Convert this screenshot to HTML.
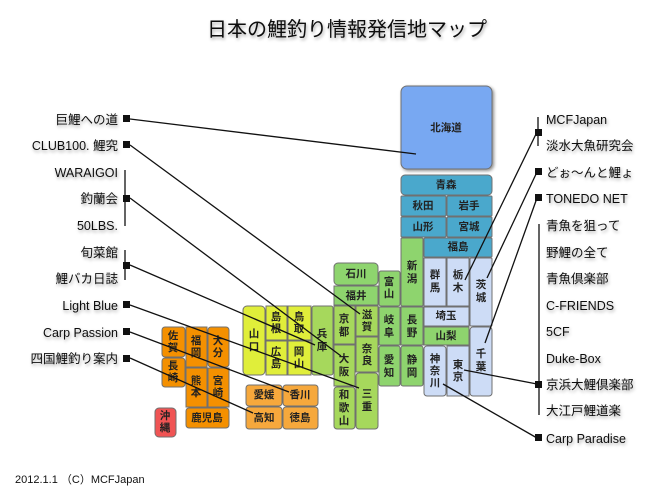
<!DOCTYPE html>
<html><head><meta charset="utf-8"><style>
html,body{margin:0;padding:0;background:#fff;}
svg{display:block;}
text{font-family:"Liberation Sans","Noto Sans CJK JP",sans-serif;}
.c{font-size:10.5px;fill:#222;text-anchor:middle;dominant-baseline:central;font-weight:bold;}
.l{font-size:12.5px;fill:#111;}
</style></head><body>
<svg width="672" height="500" viewBox="0 0 672 500" xmlns="http://www.w3.org/2000/svg">
<defs>
<filter id="sh" x="-20%" y="-20%" width="140%" height="140%"><feDropShadow dx="1.5" dy="1.5" stdDeviation="1.5" flood-color="#000" flood-opacity="0.45"/></filter>
<filter id="ts" x="-10%" y="-30%" width="120%" height="160%"><feDropShadow dx="1" dy="2" stdDeviation="1.5" flood-color="#000" flood-opacity="0.35"/></filter>
</defs>
<text x="347" y="36" font-size="20" text-anchor="middle" fill="#111" filter="url(#ts)">日本の鯉釣り情報発信地マップ</text>

<g stroke="#707070" stroke-width="1">
<!-- Hokkaido -->
<rect x="401" y="86" width="91" height="83" rx="6" fill="#78a8f2" filter="url(#sh)"/>
<!-- Tohoku -->
<g fill="#4aa8cc">
<rect x="401" y="175" width="91" height="20" rx="4"/>
<rect x="401" y="196" width="45" height="20" rx="1"/>
<rect x="447" y="196" width="45" height="20" rx="1"/>
<rect x="401" y="217" width="45" height="20" rx="1"/>
<rect x="447" y="217" width="45" height="20" rx="1"/>
<rect x="424" y="238" width="68" height="19" rx="1"/>
</g>
<!-- Kanto light -->
<g fill="#cddcf6">
<rect x="424" y="258" width="22" height="48"/>
<rect x="447" y="258" width="22" height="48"/>
<rect x="470" y="258" width="22" height="68" rx="1"/>
<rect x="424" y="307" width="45" height="19"/>
<rect x="470" y="327" width="22" height="69" rx="3"/>
<rect x="424" y="346" width="22" height="50" rx="3"/>
<rect x="447" y="346" width="22" height="50"/>
</g>
<!-- Chubu green -->
<g fill="#8ed46e">
<rect x="401" y="238" width="22" height="68" rx="1"/>
<rect x="424" y="327" width="45" height="18"/>
<rect x="379" y="271" width="21" height="35" rx="2"/>
<rect x="379" y="307" width="21" height="38"/>
<rect x="401" y="307" width="22" height="38"/>
<rect x="379" y="346" width="21" height="40" rx="2"/>
<rect x="401" y="346" width="22" height="40" rx="2"/>
<rect x="334" y="263" width="44" height="22" rx="4"/>
<rect x="334" y="286" width="44" height="19"/>
</g>
<!-- Kinki -->
<g fill="#a6d85c">
<rect x="334" y="306" width="21" height="38"/>
<rect x="356" y="306" width="22" height="30"/>
<rect x="334" y="345" width="21" height="41"/>
<rect x="356" y="337" width="22" height="35"/>
<rect x="334" y="387" width="21" height="42" rx="3"/>
<rect x="356" y="373" width="22" height="56" rx="3"/>
<rect x="312" y="306" width="21" height="69" rx="2"/>
</g>
<!-- Chugoku -->
<g fill="#e0ee3a">
<rect x="243" y="306" width="22" height="69" rx="4"/>
<rect x="266" y="306" width="21" height="34"/>
<rect x="288" y="306" width="23" height="34"/>
<rect x="266" y="341" width="21" height="34"/>
<rect x="288" y="341" width="23" height="34"/>
</g>
<!-- Shikoku -->
<g fill="#f6a83c">
<rect x="246" y="385" width="36" height="21" rx="3"/>
<rect x="283" y="385" width="35" height="21" rx="3"/>
<rect x="246" y="407" width="36" height="22" rx="3"/>
<rect x="283" y="407" width="35" height="22" rx="3"/>
</g>
<!-- Kyushu -->
<g fill="#f49000">
<rect x="162" y="327" width="23" height="30" rx="3"/>
<rect x="162" y="358" width="23" height="29" rx="3"/>
<rect x="186" y="327" width="21" height="40"/>
<rect x="208" y="327" width="21" height="40" rx="3"/>
<rect x="186" y="368" width="21" height="39"/>
<rect x="208" y="368" width="21" height="39"/>
<rect x="186" y="408" width="43" height="20" rx="3"/>
</g>
<rect x="155" y="408" width="21" height="29" rx="4" fill="#f05454"/>
</g>

<g class="c">
<text x="446" y="128" class="c">北海道</text>
<text x="446" y="185" class="c">青森</text>
<text x="423" y="206" class="c">秋田</text><text x="469" y="206" class="c">岩手</text>
<text x="423" y="227" class="c">山形</text><text x="469" y="227" class="c">宮城</text>
<text x="458" y="247" class="c">福島</text>
<text x="412" y="266" class="c">新</text><text x="412" y="279" class="c">潟</text>
<text x="435" y="275" class="c">群</text><text x="435" y="288" class="c">馬</text>
<text x="458" y="275" class="c">栃</text><text x="458" y="288" class="c">木</text>
<text x="481" y="285" class="c">茨</text><text x="481" y="298" class="c">城</text>
<text x="446" y="316" class="c">埼玉</text>
<text x="446" y="336" class="c">山梨</text>
<text x="481" y="354" class="c">千</text><text x="481" y="367" class="c">葉</text>
<text x="435" y="359" class="c">神</text><text x="435" y="371" class="c">奈</text><text x="435" y="383" class="c">川</text>
<text x="458" y="365" class="c">東</text><text x="458" y="377" class="c">京</text>
<text x="389" y="282" class="c">富</text><text x="389" y="294" class="c">山</text>
<text x="389" y="320" class="c">岐</text><text x="389" y="333" class="c">阜</text>
<text x="412" y="320" class="c">長</text><text x="412" y="333" class="c">野</text>
<text x="389" y="360" class="c">愛</text><text x="389" y="373" class="c">知</text>
<text x="412" y="360" class="c">静</text><text x="412" y="373" class="c">岡</text>
<text x="356" y="274" class="c">石川</text>
<text x="356" y="296" class="c">福井</text>
<text x="344" y="319" class="c">京</text><text x="344" y="332" class="c">都</text>
<text x="367" y="315" class="c">滋</text><text x="367" y="327" class="c">賀</text>
<text x="344" y="359" class="c">大</text><text x="344" y="372" class="c">阪</text>
<text x="367" y="349" class="c">奈</text><text x="367" y="361" class="c">良</text>
<text x="344" y="395" class="c">和</text><text x="344" y="408" class="c">歌</text><text x="344" y="421" class="c">山</text>
<text x="367" y="394" class="c">三</text><text x="367" y="407" class="c">重</text>
<text x="322" y="334" class="c">兵</text><text x="322" y="347" class="c">庫</text>
<text x="254" y="334" class="c">山</text><text x="254" y="347" class="c">口</text>
<text x="276" y="317" class="c">島</text><text x="276" y="329" class="c">根</text>
<text x="299" y="317" class="c">鳥</text><text x="299" y="329" class="c">取</text>
<text x="276" y="352" class="c">広</text><text x="276" y="364" class="c">島</text>
<text x="299" y="352" class="c">岡</text><text x="299" y="364" class="c">山</text>
<text x="264" y="395" class="c">愛媛</text><text x="300" y="395" class="c">香川</text>
<text x="264" y="418" class="c">高知</text><text x="300" y="418" class="c">徳島</text>
<text x="173" y="336" class="c">佐</text><text x="173" y="348" class="c">賀</text>
<text x="173" y="366" class="c">長</text><text x="173" y="378" class="c">崎</text>
<text x="196" y="341" class="c">福</text><text x="196" y="353" class="c">岡</text>
<text x="218" y="341" class="c">大</text><text x="218" y="353" class="c">分</text>
<text x="196" y="381" class="c">熊</text><text x="196" y="393" class="c">本</text>
<text x="218" y="381" class="c">宮</text><text x="218" y="393" class="c">崎</text>
<text x="207" y="418" class="c">鹿児島</text>
<text x="165" y="416" class="c">沖</text><text x="165" y="428" class="c">縄</text>
</g>

<!-- connectors -->
<g stroke="#111" stroke-width="1.3" fill="none">
<line x1="130" y1="119" x2="416" y2="154"/>
<line x1="130" y1="145" x2="360" y2="314"/>
<line x1="130" y1="198" x2="341" y2="356"/>
<line x1="130" y1="265" x2="315" y2="345"/>
<line x1="130" y1="305" x2="359" y2="388"/>
<line x1="130" y1="332" x2="289" y2="392"/>
<line x1="130" y1="358" x2="253" y2="413"/>
<line x1="537" y1="132" x2="465" y2="280"/>
<line x1="537" y1="172" x2="487" y2="278"/>
<line x1="537" y1="198" x2="485" y2="343"/>
<line x1="537" y1="384" x2="464" y2="370"/>
<line x1="537" y1="438" x2="443" y2="384"/>
<line x1="125" y1="170" x2="125" y2="226"/>
<line x1="125" y1="250" x2="125" y2="280"/>
<line x1="538" y1="117" x2="538" y2="146"/>
<line x1="539" y1="224" x2="539" y2="415"/>
</g>
<g fill="#111">
<rect x="123" y="115" width="7" height="7"/>
<rect x="123" y="141" width="7" height="7"/>
<rect x="123" y="195" width="7" height="7"/>
<rect x="123" y="262" width="7" height="7"/>
<rect x="123" y="301" width="7" height="7"/>
<rect x="123" y="328" width="7" height="7"/>
<rect x="123" y="355" width="7" height="7"/>
<rect x="535" y="129" width="7" height="7"/>
<rect x="535" y="168" width="7" height="7"/>
<rect x="535" y="194" width="7" height="7"/>
<rect x="535" y="381" width="7" height="7"/>
<rect x="535" y="434" width="7" height="7"/>
</g>

<g class="l" text-anchor="end" filter="url(#ts)">
<text x="118" y="124">巨鯉への道</text>
<text x="118" y="150">CLUB100. 鯉究</text>
<text x="118" y="177">WARAIGOI</text>
<text x="118" y="203">釣蘭会</text>
<text x="118" y="230">50LBS.</text>
<text x="118" y="257">旬菜館</text>
<text x="118" y="283">鯉バカ日誌</text>
<text x="118" y="310">Light Blue</text>
<text x="118" y="337">Carp Passion</text>
<text x="118" y="363">四国鯉釣り案内</text>
</g>
<g class="l" filter="url(#ts)">
<text x="546" y="124">MCFJapan</text>
<text x="546" y="150">淡水大魚研究会</text>
<text x="546" y="177">どぉ～んと鯉ょ</text>
<text x="546" y="203">TONEDO NET</text>
<text x="546" y="230">青魚を狙って</text>
<text x="546" y="257">野鯉の全て</text>
<text x="546" y="283">青魚倶楽部</text>
<text x="546" y="310">C-FRIENDS</text>
<text x="546" y="336">5CF</text>
<text x="546" y="363">Duke-Box</text>
<text x="546" y="389">京浜大鯉倶楽部</text>
<text x="546" y="415">大江戸鯉道楽</text>
<text x="546" y="443">Carp Paradise</text>
</g>
<text x="15" y="483" font-size="11" fill="#111">2012.1.1 （C）MCFJapan</text>
</svg>
</body></html>
